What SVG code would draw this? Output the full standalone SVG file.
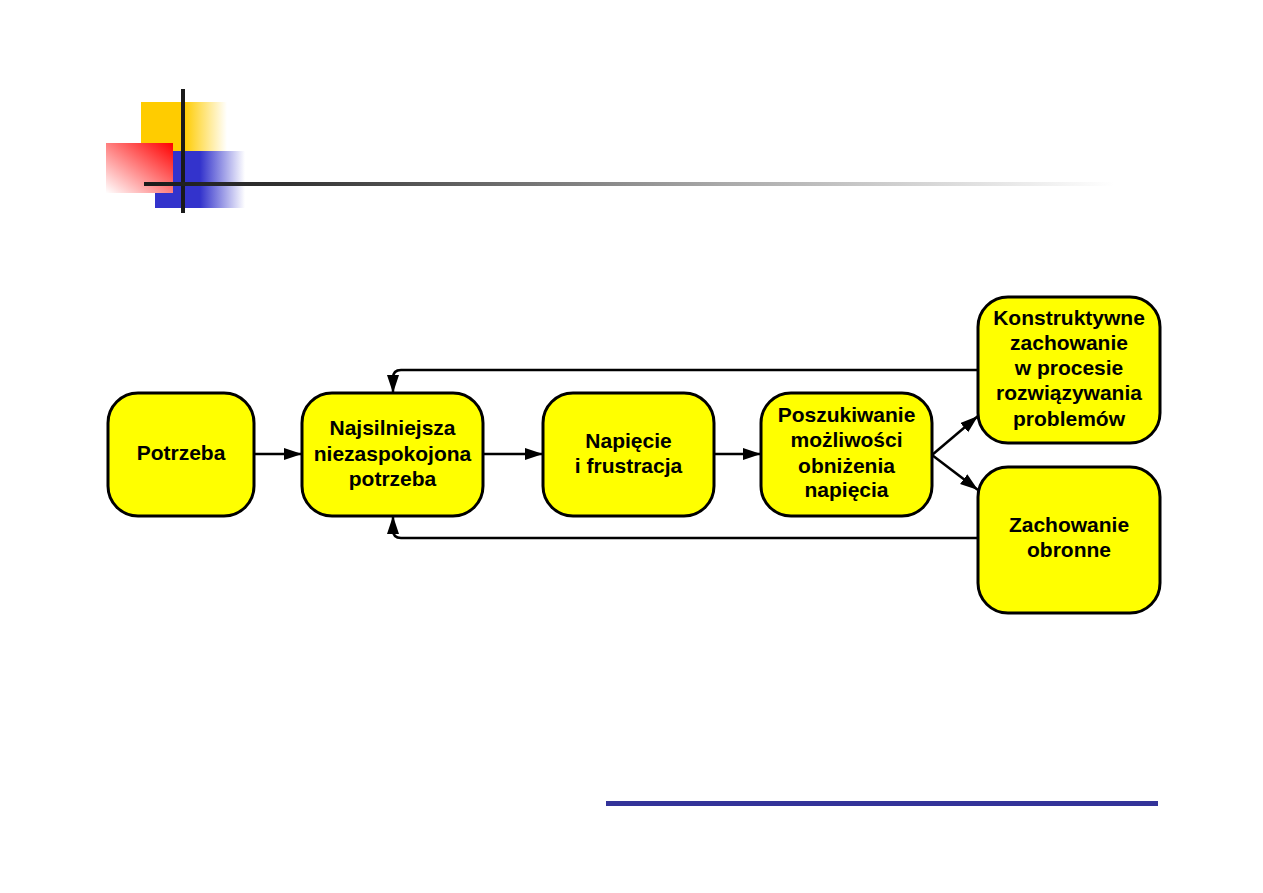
<svg xmlns="http://www.w3.org/2000/svg" width="1263" height="893" viewBox="0 0 1263 893">
<style>
.box{fill:#FFFF00;stroke:#000;stroke-width:3}
.lbl{font-family:"Liberation Sans",Arial,sans-serif;font-weight:bold;font-size:21px;fill:#000;text-anchor:middle}
.con{fill:none;stroke:#000;stroke-width:2.5}
</style>
<defs>
<marker id="ah" markerUnits="userSpaceOnUse" markerWidth="20" markerHeight="14" refX="18" refY="6" orient="auto">
<path d="M0,0 L18,6 L0,12 Z" fill="#000"/>
</marker>
<linearGradient id="gy" x1="0" y1="0" x2="1" y2="0">
<stop offset="0" stop-color="#FFCC00"/><stop offset="0.5" stop-color="#FFCC00"/><stop offset="1" stop-color="#FFFFFF"/>
</linearGradient>
<linearGradient id="gb" x1="0" y1="0" x2="1" y2="0">
<stop offset="0" stop-color="#3333CC"/><stop offset="0.5" stop-color="#3333CC"/><stop offset="1" stop-color="#FFFFFF"/>
</linearGradient>
<linearGradient id="gr" x1="1" y1="0" x2="0" y2="1">
<stop offset="0" stop-color="#FF0000"/><stop offset="1" stop-color="#FFFFFF"/>
</linearGradient>
<linearGradient id="gl" x1="0" y1="0" x2="1" y2="0">
<stop offset="0" stop-color="#1a1a1a"/><stop offset="0.15" stop-color="#333"/><stop offset="0.6" stop-color="#aaa"/><stop offset="1" stop-color="#fff"/>
</linearGradient>
</defs>
<g id="decoration">
<rect x="141" y="102" width="86" height="50" fill="url(#gy)"/>
<rect x="155" y="151" width="90" height="57" fill="url(#gb)"/>
<rect x="106" y="143" width="67" height="50" fill="url(#gr)"/>
<rect x="181" y="89" width="4" height="124" fill="#1a1a1a"/>
<rect x="144" y="182" width="970" height="4" fill="url(#gl)"/>
<rect x="606" y="801" width="552" height="5" fill="#333399"/>
</g>
<g id="connectors">
<line class="con" x1="254" y1="454" x2="302" y2="454" marker-end="url(#ah)"/>
<line class="con" x1="483" y1="454" x2="543" y2="454" marker-end="url(#ah)"/>
<line class="con" x1="714" y1="454" x2="761" y2="454" marker-end="url(#ah)"/>
<line class="con" x1="932" y1="455" x2="978" y2="416" marker-end="url(#ah)"/>
<line class="con" x1="932" y1="455" x2="978" y2="490" marker-end="url(#ah)"/>
<path class="con" d="M978,370 L401,370 Q393,370 393,378 L393,393" marker-end="url(#ah)"/>
<path class="con" d="M978,538 L401,538 Q393,538 393,530 L393,516" marker-end="url(#ah)"/>
</g>
<g id="n1">
<rect class="box" x="108" y="393" width="146" height="123" rx="30"/>
<text class="lbl" x="181" y="460">Potrzeba</text>
</g>
<g id="n2">
<rect class="box" x="302" y="393" width="181" height="123" rx="30"/>
<text class="lbl" x="392.5" y="435">Najsilniejsza</text>
<text class="lbl" x="392.5" y="461">niezaspokojona</text>
<text class="lbl" x="392.5" y="486">potrzeba</text>
</g>
<g id="n3">
<rect class="box" x="543" y="393" width="171" height="123" rx="30"/>
<text class="lbl" x="628.5" y="448">Napięcie</text>
<text class="lbl" x="628.5" y="473">i frustracja</text>
</g>
<g id="n4">
<rect class="box" x="761" y="393" width="171" height="123" rx="30"/>
<text class="lbl" x="846.5" y="422">Poszukiwanie</text>
<text class="lbl" x="846.5" y="447">możliwości</text>
<text class="lbl" x="846.5" y="473">obniżenia</text>
<text class="lbl" x="846.5" y="497">napięcia</text>
</g>
<g id="n5">
<rect class="box" x="978" y="297" width="182" height="146" rx="30"/>
<text class="lbl" x="1069" y="325">Konstruktywne</text>
<text class="lbl" x="1069" y="350">zachowanie</text>
<text class="lbl" x="1069" y="375">w procesie</text>
<text class="lbl" x="1069" y="400">rozwiązywania</text>
<text class="lbl" x="1069" y="426">problemów</text>
</g>
<g id="n6">
<rect class="box" x="978" y="467" width="182" height="146" rx="30"/>
<text class="lbl" x="1069" y="532">Zachowanie</text>
<text class="lbl" x="1069" y="557">obronne</text>
</g>
</svg>
